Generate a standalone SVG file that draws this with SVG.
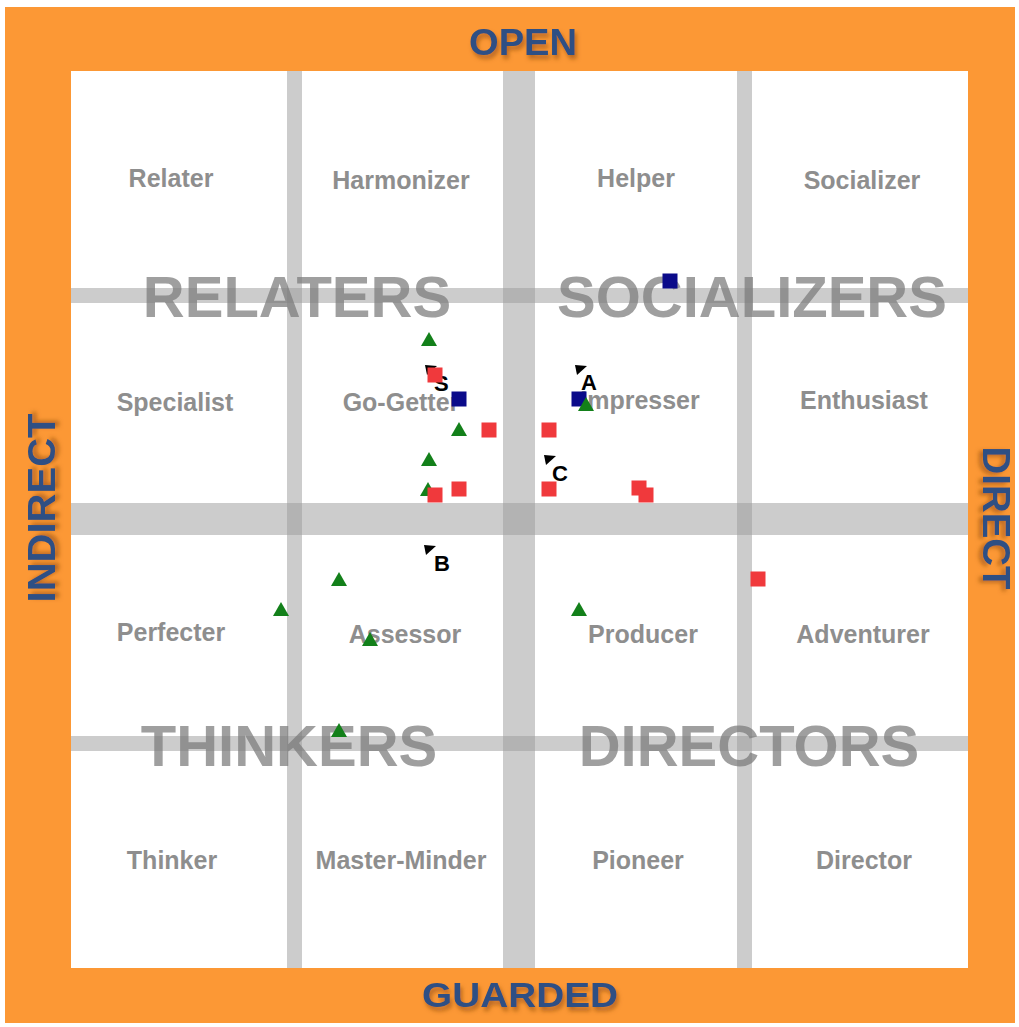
<svg xmlns="http://www.w3.org/2000/svg" xmlns:xlink="http://www.w3.org/1999/xlink" width="1019" height="1027" viewBox="0 0 1019 1027">
<style>
.axis{font-family:"Liberation Sans",Arial,sans-serif;font-weight:bold;fill:#2d4f84;filter:url(#sh)}
.cell{font-family:"Liberation Sans",Arial,sans-serif;font-weight:bold;font-size:25px;fill:#8e8e8e;text-anchor:middle}
.big{font-family:"Liberation Sans",Arial,sans-serif;font-weight:bold;font-size:58px;fill:#7a7a7a;fill-opacity:0.72;text-anchor:middle}
.band{fill:#999999;fill-opacity:0.5}
.flag{font-family:"Liberation Sans",Arial,sans-serif;font-weight:bold;font-size:22px;fill:#000}
</style>
<defs>
<filter id="sh" x="-20%" y="-20%" width="140%" height="160%">
<feDropShadow dx="2" dy="4" stdDeviation="2" flood-color="#8a4a10" flood-opacity="0.6"/>
</filter>
<polygon id="tri" points="0,-8 8,6 -8,6" fill="#13801a"/>
<rect id="rsq" x="-7.5" y="-7.5" width="15" height="15" fill="#f0393c"/>
<rect id="bsq" x="-7.5" y="-7.5" width="15" height="15" fill="#0b0b8a"/>
<polygon id="ptr" points="0,0 12,1 2,10" fill="#000"/>
</defs>
<rect x="0" y="0" width="1019" height="1027" fill="#ffffff"/>
<rect x="5" y="7" width="1010" height="1016" fill="#fc9835"/>
<rect x="71" y="71" width="897" height="897" fill="#ffffff"/>

<g id="axes">
<text class="axis" x="523" y="55" font-size="37" text-anchor="middle" textLength="108" lengthAdjust="spacingAndGlyphs">OPEN</text>
<text class="axis" x="520" y="1007" font-size="35" text-anchor="middle" textLength="196" lengthAdjust="spacingAndGlyphs">GUARDED</text>
<text class="axis" transform="translate(55,508) rotate(-90)" font-size="38" text-anchor="middle" textLength="189" lengthAdjust="spacingAndGlyphs">INDIRECT</text>
<text class="axis" transform="translate(983,518) rotate(90)" font-size="38" text-anchor="middle" textLength="143" lengthAdjust="spacingAndGlyphs">DIRECT</text>
</g>

<g id="grid">
<rect class="band" x="287" y="71" width="15" height="897"/>
<rect class="band" x="503" y="71" width="32" height="897"/>
<rect class="band" x="737" y="71" width="15" height="897"/>
<rect class="band" x="71" y="288" width="897" height="15"/>
<rect class="band" x="71" y="503" width="897" height="32"/>
<rect class="band" x="71" y="736" width="897" height="15"/>
</g>

<g id="cells">
<text class="cell" x="171" y="187">Relater</text>
<text class="cell" x="401" y="189">Harmonizer</text>
<text class="cell" x="636" y="187">Helper</text>
<text class="cell" x="862" y="189">Socializer</text>
<text class="cell" x="175" y="411">Specialist</text>
<text class="cell" x="401" y="411">Go-Getter</text>
<text class="cell" x="640" y="409">Impresser</text>
<text class="cell" x="864" y="409">Enthusiast</text>
<text class="cell" x="171" y="641">Perfecter</text>
<text class="cell" x="405" y="643">Assessor</text>
<text class="cell" x="643" y="643">Producer</text>
<text class="cell" x="863" y="643">Adventurer</text>
<text class="cell" x="172" y="869">Thinker</text>
<text class="cell" x="401" y="869">Master-Minder</text>
<text class="cell" x="638" y="869">Pioneer</text>
<text class="cell" x="864" y="869">Director</text>
</g>

<g id="quadrants">
<text class="big" x="297" y="317">RELATERS</text>
<text class="big" x="752" y="317">SOCIALIZERS</text>
<text class="big" x="289" y="766">THINKERS</text>
<text class="big" x="749" y="766">DIRECTORS</text>
</g>

<g id="flags">
<use xlink:href="#ptr" x="425" y="365"/>
<text class="flag" x="434" y="391">S</text>
<use xlink:href="#ptr" x="575" y="365"/>
<text class="flag" x="581" y="390">A</text>
<use xlink:href="#ptr" x="544" y="455"/>
<text class="flag" x="552" y="481">C</text>
<use xlink:href="#ptr" x="424" y="545"/>
<text class="flag" x="434" y="571">B</text>
</g>

<g id="points">
<use xlink:href="#tri" x="429" y="340"/>
<use xlink:href="#rsq" x="435" y="375"/>
<use xlink:href="#bsq" x="459" y="399"/>
<use xlink:href="#tri" x="459" y="430"/>
<use xlink:href="#rsq" x="489" y="430"/>
<use xlink:href="#rsq" x="549" y="430"/>
<use xlink:href="#bsq" x="579" y="399"/>
<use xlink:href="#tri" x="586" y="405"/>
<use xlink:href="#bsq" x="670" y="281"/>
<use xlink:href="#tri" x="429" y="460"/>
<use xlink:href="#tri" x="428" y="490"/>
<use xlink:href="#rsq" x="435" y="495"/>
<use xlink:href="#rsq" x="459" y="489"/>
<use xlink:href="#rsq" x="549" y="489"/>
<use xlink:href="#rsq" x="639" y="488"/>
<use xlink:href="#rsq" x="646" y="495"/>
<use xlink:href="#rsq" x="758" y="579"/>
<use xlink:href="#tri" x="339" y="580"/>
<use xlink:href="#tri" x="281" y="610"/>
<use xlink:href="#tri" x="370" y="640"/>
<use xlink:href="#tri" x="579" y="610"/>
<use xlink:href="#tri" x="339" y="731"/>
</g>
</svg>
